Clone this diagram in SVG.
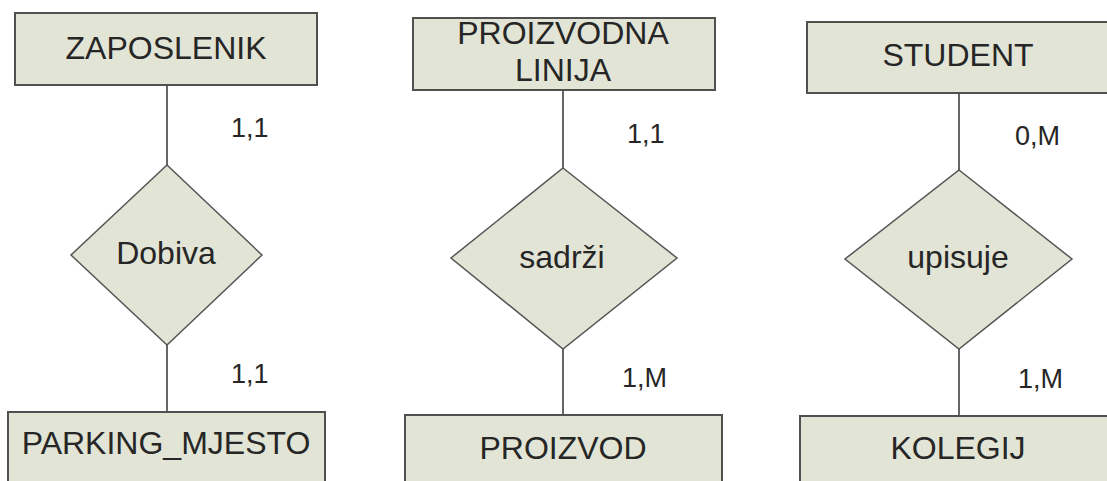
<svg xmlns="http://www.w3.org/2000/svg" width="1107" height="481" viewBox="0 0 1107 481">
<style>
.ent{fill:#e2e4d5;stroke:#505050;stroke-width:2}
.rel{fill:#e2e4d5;stroke:#555;stroke-width:1.5}
.t{font-family:"Liberation Sans",Arial,sans-serif;font-size:32px;fill:#262626;text-anchor:middle}
.c{font-family:"Liberation Sans",Arial,sans-serif;font-size:27px;fill:#262626}
.ln{stroke:#666;stroke-width:2;fill:none}
</style>
<rect width="1107" height="481" fill="#fff"/>
<g id="connectors">
<line class="ln" x1="167" y1="85" x2="167" y2="165"/>
<line class="ln" x1="167" y1="345" x2="167" y2="412"/>
<line class="ln" x1="563" y1="90" x2="563" y2="168"/>
<line class="ln" x1="563" y1="349" x2="563" y2="415"/>
<line class="ln" x1="959" y1="93" x2="959" y2="170"/>
<line class="ln" x1="959" y1="349" x2="959" y2="416"/>
<text class="c" x="231" y="137">1,1</text>
<text class="c" x="231" y="383">1,1</text>
<text class="c" x="627" y="143">1,1</text>
<text class="c" x="622" y="387">1,M</text>
<text class="c" x="1015" y="145">0,M</text>
<text class="c" x="1018" y="388">1,M</text>
</g>
<g id="zaposlenik">
<rect class="ent" x="15" y="13" width="302" height="72"/>
<text class="t" x="166" y="59">ZAPOSLENIK</text>
</g>
<g id="dobiva">
<polygon class="rel" points="167,165 262,255 167,345 71,255"/>
<text class="t" x="166" y="264">Dobiva</text>
</g>
<g id="parking_mjesto">
<rect class="ent" x="8" y="412" width="317" height="80"/>
<text class="t" x="166" y="454">PARKING_MJESTO</text>
</g>
<g id="proizvodna_linija">
<rect class="ent" x="413" y="18" width="302" height="72"/>
<text class="t" x="563" y="44">PROIZVODNA</text>
<text class="t" x="563" y="81">LINIJA</text>
</g>
<g id="sadrzi">
<polygon class="rel" points="563,168 677,258 563,349 451,258"/>
<text class="t" x="562" y="268">sadrži</text>
</g>
<g id="proizvod">
<rect class="ent" x="405" y="415" width="317" height="80"/>
<text class="t" x="563" y="459">PROIZVOD</text>
</g>
<g id="student">
<rect class="ent" x="807" y="22" width="310" height="71"/>
<text class="t" x="958" y="66">STUDENT</text>
</g>
<g id="upisuje">
<polygon class="rel" points="959,170 1072,259 959,349 845,259"/>
<text class="t" x="958" y="268">upisuje</text>
</g>
<g id="kolegij">
<rect class="ent" x="800" y="416" width="317" height="80"/>
<text class="t" x="958" y="459">KOLEGIJ</text>
</g>
</svg>
